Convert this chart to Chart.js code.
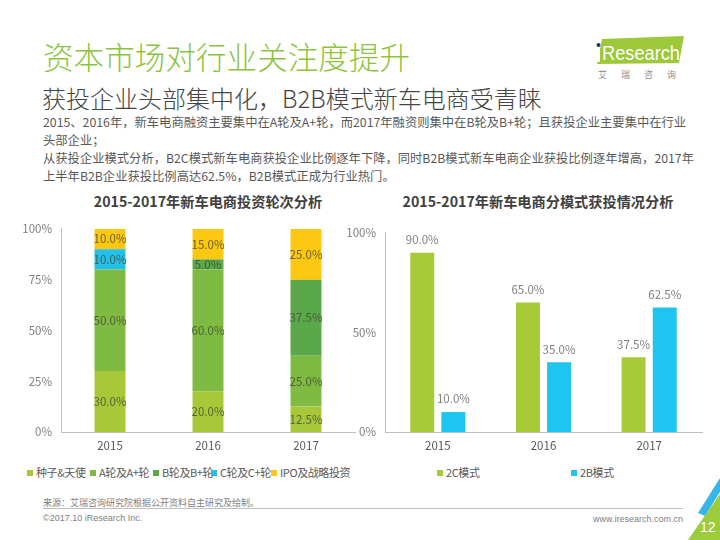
<!DOCTYPE html>
<html>
<head>
<meta charset="utf-8">
<script src="https://cdn.jsdelivr.net/npm/chart.js@4.4.1/dist/chart.umd.min.js"></script>
<style>
  body { margin: 0; width: 720px; height: 540px; position: relative; overflow: hidden; background: #fff;
         font-family: "Noto Sans CJK SC", sans-serif; }
  .abs { position: absolute; white-space: nowrap; }
  #title { left: 43px; top: 36px; font-size: 30.6px; color: #8cc43f; font-weight: 300; line-height: 40px; }
  #subtitle { left: 42px; top: 82px; font-size: 24px; color: #454545; line-height: 32px; font-weight: 300; }
  #body { left: 43px; top: 113px; font-size: 12.3px; color: #595959; line-height: 18px; }
  .ctitle { top: 191px; font-size: 14.2px; font-weight: bold; color: #404040; transform: translateX(-50%); }
  .leg { top: 464px; font-size: 11px; letter-spacing: -0.4px; color: #595959; line-height: 16px; }
  .leg i { display: inline-block; width: 6px; height: 6px; margin-right: 3px; vertical-align: 1px; }
  #src { left: 43px; top: 496px; font-size: 9px; color: #808080; }
  #rule { left: 43px; top: 508px; width: 640px; height: 1px; background: #bfbfbf; }
  #copy { left: 43px; top: 513px; font-size: 9px; color: #808080; font-family: "Liberation Sans", sans-serif; }
  #url { right: 37px; top: 514px; font-size: 9px; color: #808080; font-family: "Liberation Sans", sans-serif; }
  canvas { position: absolute; }
</style>
</head>
<body>
<svg class="abs" style="left:0;top:0" width="720" height="540">
  <!-- logo -->
  <polygon points="602,39 684,36 679,63 597,64" fill="#9cc83a"/>
  <rect x="597" y="49" width="3" height="13" fill="#fff"/>
  <circle cx="598.5" cy="45" r="2" fill="#1f3566"/>
  <text x="602" y="60" font-family="Liberation Sans, sans-serif" font-size="20" fill="#fff" textLength="78" lengthAdjust="spacingAndGlyphs">Research</text>
  <text x="598" y="78" font-family="Noto Sans CJK SC" font-size="9" fill="#8c8c8c" letter-spacing="14">艾瑞咨询</text>
  <!-- corner -->
  <polygon points="698,513 720,478 720,492 705,516" fill="#36b6e6"/>
  <polygon points="688,540 720,494 720,540" fill="#9ccb3b"/>
  <text x="700" y="532" font-family="Liberation Sans, sans-serif" font-size="14" fill="#fff">12</text>
</svg>

<div id="title" class="abs">资本市场对行业关注度提升</div>
<div id="subtitle" class="abs">获投企业头部集中化，B2B模式新车电商受青睐</div>
<div id="body" class="abs">2015、2016年，新车电商融资主要集中在A轮及A+轮，而2017年融资则集中在B轮及B+轮；且获投企业主要集中在行业<br>头部企业；<br>从获投企业模式分析，B2C模式新车电商获投企业比例逐年下降，同时B2B模式新车电商企业获投比例逐年增高，2017年<br>上半年B2B企业获投比例高达62.5%，B2B模式正成为行业热门。</div>

<div class="abs ctitle" style="left:208px">2015-2017年新车电商投资轮次分析</div>
<div class="abs ctitle" style="left:538px">2015-2017年新车电商分模式获投情况分析</div>

<canvas id="roundChart" width="365" height="247" style="left:0;top:213px"></canvas>
<canvas id="modeChart" width="380" height="243" style="left:340px;top:217px"></canvas>

<div id="legendLeft"></div>
<div id="legendRight"></div>

<div id="src" class="abs">来源：艾瑞咨询研究院根据公开资料自主研究及绘制。</div>
<div id="rule" class="abs"></div>
<div id="copy" class="abs">©2017.10 iResearch Inc.</div>
<div id="url" class="abs">www.iresearch.com.cn</div>

<script>
// 数据
const years = ['2015', '2016', '2017'];
const roundNames = ['种子&天使', 'A轮及A+轮', 'B轮及B+轮', 'C轮及C+轮', 'IPO及战略投资'];
const seedAngel = [30, 20, 12.5];
const roundA = [50, 60, 25];
const roundB = [0, 5, 37.5];
const roundC = [10, 0, 0];
const ipo = [10, 15, 25];
const modeNames = ['2C模式', '2B模式'];
const toC = [90, 65, 37.5];
const toB = [10, 35, 62.5];
const leftTicks = [0, 25, 50, 75, 100];
const rightTicks = [0, 50, 100];

const roundColors = ['#a8c83a', '#7fbb42', '#5ba84a', '#23c0ea', '#fdc812'];
const modeColors = ['#a6ca38', '#1ec5f0'];
const font = '"Noto Sans CJK SC", sans-serif';

// 柱子上的数值
const valueLabels = {
    id: 'valueLabels',
    afterDatasetsDraw(chart, args, opts) {
        const ctx = chart.ctx;
        ctx.save();
        ctx.font = '11.5px ' + font;
        ctx.fillStyle = opts.color;
        ctx.textAlign = 'center';
        ctx.textBaseline = 'middle';
        chart.data.datasets.forEach((ds, i) => {
            chart.getDatasetMeta(i).data.forEach((bar, j) => {
                const v = ds.data[j];
                if (!v) return;
                const y = opts.inside ? (bar.y + bar.base) / 2 : bar.y - 13;
                ctx.fillText(v.toFixed(1) + '%', bar.x, y);
            });
        });
        ctx.restore();
    }
};

function axes(ticks, yWidth) {
    return {
        x: {
            grid: { display: false, drawTicks: false },
            border: { display: true, color: '#bfbfbf' },
            ticks: { color: '#595959', font: { family: font, size: 11.5 }, padding: 7 },
            afterFit: s => { s.height = 28; }
        },
        y: {
            min: 0, max: 100,
            grid: { display: false, drawTicks: false },
            border: { display: true, color: '#bfbfbf' },
            ticks: { color: '#7f7f7f', font: { family: font, size: 11.5 }, padding: 9, callback: v => v + '%' },
            afterBuildTicks: s => { s.ticks = ticks.map(v => ({ value: v })); },
            afterFit: s => { s.width = yWidth; }
        }
    };
}

const roundData = [seedAngel, roundA, roundB, roundC, ipo];
const roundScales = axes(leftTicks, 41);
roundScales.x.stacked = true;
roundScales.y.stacked = true;

new Chart(document.getElementById('roundChart'), {
    type: 'bar',
    data: {
        labels: years,
        datasets: roundNames.map((n, i) => ({
            label: n,
            data: roundData[i],
            backgroundColor: roundColors[i],
            categoryPercentage: 1,
            barPercentage: 0.316
        }))
    },
    options: {
        responsive: false,
        animation: false,
        layout: { padding: { left: 20, right: 10, top: 2, bottom: 0 } },
        scales: roundScales,
        plugins: {
            legend: { display: false },
            tooltip: { enabled: false },
            valueLabels: { inside: true, color: 'rgba(64,72,50,0.8)' }
        }
    },
    plugins: [valueLabels]
});

const modeData = [toC, toB];
new Chart(document.getElementById('modeChart'), {
    type: 'bar',
    data: {
        labels: years,
        datasets: modeNames.map((n, i) => ({
            label: n,
            data: modeData[i],
            backgroundColor: modeColors[i],
            categoryPercentage: 0.59,
            barPercentage: 0.77
        }))
    },
    options: {
        responsive: false,
        animation: false,
        layout: { padding: { left: 0, right: 18, top: 10, bottom: 0 } },
        scales: axes(rightTicks, 45),
        plugins: {
            legend: { display: false },
            tooltip: { enabled: false },
            valueLabels: { inside: false, color: '#7f7f7f' }
        }
    },
    plugins: [valueLabels]
});

// 图例
function legend(id, names, colors, lefts) {
    const box = document.getElementById(id);
    names.forEach((n, i) => {
        const d = document.createElement('div');
        d.className = 'abs leg';
        d.style.left = lefts[i] + 'px';
        d.innerHTML = `<i style="background:${colors[i]}"></i>${n}`;
        box.appendChild(d);
    });
}
legend('legendLeft', roundNames, roundColors, [27, 90, 153, 211, 271]);
legend('legendRight', modeNames, modeColors, [437, 571]);
</script>
</body>
</html>
